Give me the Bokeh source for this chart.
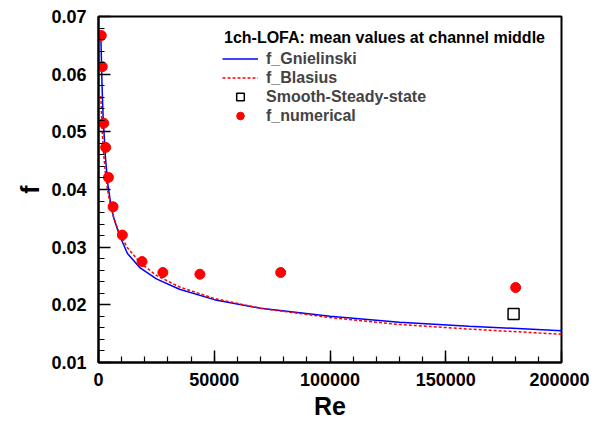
from bokeh.plotting import figure
from bokeh.models import (Range1d, SingleIntervalTicker, NumeralTickFormatter,
                          Legend, LegendItem, ColumnDataSource, Label)
from bokeh.embed import file_html
from bokeh.resources import INLINE

# ---- data ----
re_curve = [1000, 1500, 2000, 3000, 4000, 5000, 6500, 9000, 12500, 18000,
            25000, 35000, 50000, 70000, 100000, 130000, 160000, 200000]
f_gnielinski = [0.0670, 0.0584, 0.0525, 0.0456, 0.0410, 0.0383, 0.0352, 0.0321,
                0.0289, 0.0264, 0.0245, 0.0227, 0.0209, 0.0194, 0.0180, 0.0170,
                0.0163, 0.0155]
f_blasius = [0.0562, 0.0508, 0.0473, 0.0427, 0.0397, 0.0376, 0.0352, 0.0324,
             0.0299, 0.0273, 0.0251, 0.0231, 0.0211, 0.0194, 0.0178, 0.0166,
             0.0158, 0.0149]

re_steady = [179300]
f_steady = [0.0184]

re_num = [1200, 1650, 2250, 3100, 4300, 6300, 10300, 18800, 27800, 43800, 78700, 180200]
f_num = [0.0667, 0.0613, 0.0515, 0.0473, 0.0421, 0.0370, 0.0321, 0.0275,
         0.0256, 0.0253, 0.0256, 0.0230]

x_major_interval = 50000
y_major_interval = 0.01
legend_title = "1ch-LOFA: mean values at channel middle"

FONT = "Liberation Sans"

p = figure(width=589, height=423, output_backend="svg", toolbar_location=None,
           x_range=Range1d(0, 200000), y_range=Range1d(0.01, 0.07),
           min_border_left=98, min_border_right=28, min_border_top=16,
           min_border_bottom=61)

p.xgrid.visible = False
p.ygrid.visible = False
p.outline_line_color = "black"
p.outline_line_width = 2
p.background_fill_color = "white"
p.border_fill_color = "white"

p.xaxis.ticker = SingleIntervalTicker(interval=x_major_interval, num_minor_ticks=5)
p.yaxis.ticker = SingleIntervalTicker(interval=y_major_interval, num_minor_ticks=5)
p.xaxis.formatter = NumeralTickFormatter(format="0")
p.yaxis.formatter = NumeralTickFormatter(format="0.00")

for ax in (p.xaxis[0], p.yaxis[0]):
    ax.axis_line_width = 2
    ax.axis_line_color = "black"
    ax.major_tick_in = 12
    ax.major_tick_out = 0
    ax.minor_tick_in = 6
    ax.minor_tick_out = 0
    ax.major_tick_line_width = 1.5
    ax.minor_tick_line_width = 1.2
    ax.major_label_text_font = FONT
    ax.major_label_text_font_style = "bold"
    ax.major_label_text_font_size = "18px"
    ax.major_label_text_color = "black"
    ax.axis_label_text_font = FONT
    ax.axis_label_text_font_style = "bold"
    ax.axis_label_text_font_size = "25px"
    ax.axis_label_text_color = "black"

p.xaxis.axis_label = "Re"
p.yaxis.axis_label = "f"
p.xaxis.major_label_standoff = 10
p.yaxis.major_label_standoff = 12
p.xaxis.axis_label_standoff = 3
p.yaxis.axis_label_standoff = 4

src_c = ColumnDataSource(dict(x=re_curve, g=f_gnielinski, b=f_blasius))
src_s = ColumnDataSource(dict(x=re_steady, y=f_steady))
src_n = ColumnDataSource(dict(x=re_num, y=f_num))

r_g = p.line("x", "g", source=src_c, line_color="#0000ff", line_width=1.5)
r_b = p.line("x", "b", source=src_c, line_color="#ff0000", line_width=1.5,
             line_dash="3 2")
r_s = p.scatter("x", "y", source=src_s, marker="square", size=11,
                fill_color="white", line_color="black", line_width=1.5)
r_n = p.scatter("x", "y", source=src_n, marker="circle", size=10,
                fill_color="#ff0000", line_color="#ff0000")

legend = Legend(items=[
    LegendItem(label="f_Gnielinski", renderers=[r_g]),
    LegendItem(label="f_Blasius", renderers=[r_b]),
    LegendItem(label="Smooth-Steady-state", renderers=[r_s]),
    LegendItem(label="f_numerical", renderers=[r_n]),
], location=(124, 237))
legend.label_text_font = FONT
legend.label_text_font_style = "bold"
legend.label_text_font_size = "16px"
legend.glyph_width = 36
legend.glyph_height = 19
legend.label_height = 19
legend.label_standoff = 8
legend.spacing = 0
legend.padding = 0
legend.margin = 0
legend.border_line_color = None
legend.background_fill_alpha = 0
p.add_layout(legend)

title_label = Label(x=125.5, y=325, x_units="screen", y_units="screen",
                    text=legend_title, text_font=FONT, text_font_style="bold",
                    text_font_size="16px", text_baseline="middle",
                    text_color="black")
p.add_layout(title_label)

open("out.html", "w").write(file_html(p, INLINE))
